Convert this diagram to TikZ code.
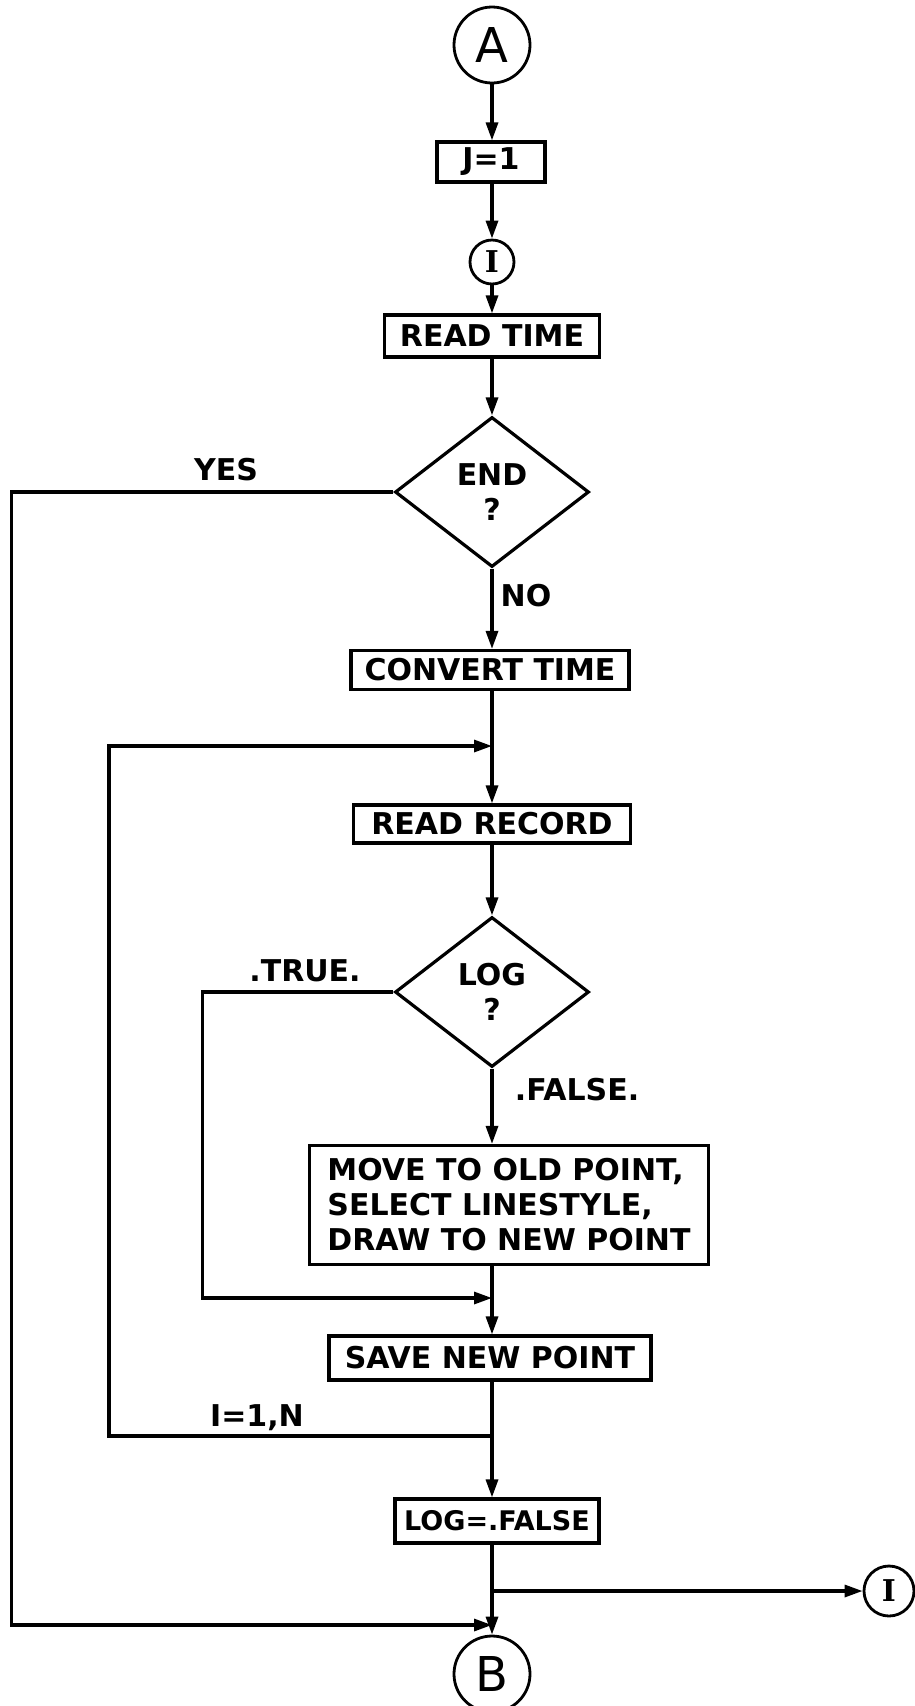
\documentclass[tikz,border=0pt]{standalone}
\usepackage{fontspec}
\setsansfont{DejaVu Sans}
\newfontfamily\circfont{DejaVu Sans}
\newfontfamily\serfont{DejaVu Serif}
\usetikzlibrary{arrows.meta,shapes.geometric}
\begin{document}
\begin{tikzpicture}[x=1pt,y=-1pt,
  every node/.style={font=\sffamily\bfseries\fontsize{30}{35}\selectfont},
  proc/.style={draw,line width=3.2pt,rectangle,inner sep=0pt},
  dec/.style={draw,line width=3.2pt,diamond,inner sep=0pt,aspect=1.3,align=center},
  conn/.style={draw,line width=2.8pt,circle,inner sep=0pt},
  bigletter/.style={font=\circfont\fontsize{48}{48}\selectfont},
  smallletter/.style={font=\serfont\bfseries\fontsize{30}{30}\selectfont},
  flow/.style={line width=3.2pt,-{Triangle[length=18pt,width=12pt]}},
  lbl/.style={inner sep=0pt}
]
\useasboundingbox (0,0) rectangle (914,1706);
% nodes
\node[conn,bigletter,minimum size=76pt] (A) at (492,45) {A};
\node[proc,minimum width=108pt,minimum height=40pt] (J) at (491,162) {J=1};
\node[conn,smallletter,minimum size=44pt] (I1) at (492,262) {I};
\node[proc,minimum width=215pt,minimum height=42pt] (rt) at (492,336) {READ TIME};
\node[dec,minimum width=194pt,minimum height=150pt] (end) at (492,492) {END\\?};
\node[proc,minimum width=278pt,minimum height=39pt] (conv) at (490,670) {CONVERT TIME};
\coordinate (m1) at (492,746);
\node[proc,minimum width=277pt,minimum height=38pt] (rr) at (492,824) {READ RECORD};
\node[dec,minimum width=194pt,minimum height=150pt] (log) at (492,992) {LOG\\?};
\node[proc,align=left,minimum width=399pt,minimum height=119pt] (move) at (509,1205) {MOVE TO OLD POINT,\\SELECT LINESTYLE,\\DRAW TO NEW POINT};
\coordinate (m2) at (492,1298);
\node[proc,minimum width=322pt,minimum height=44pt] (save) at (490,1358) {SAVE NEW POINT};
\coordinate (m3) at (492,1436);
\node[proc,minimum width=204pt,minimum height=44pt,font=\sffamily\bfseries\fontsize{27}{30}\selectfont] (lf) at (497,1521) {LOG=.FALSE};
\coordinate (m4) at (492,1591);
\node[conn,smallletter,minimum size=50pt] (I2) at (889,1591) {I};
\coordinate (m5) at (492,1625);
\node[conn,bigletter,minimum size=76pt] (B) at (492,1674) {B};
% labels
\node[lbl] (yes) at (226,470) {YES};
\node[lbl] (no) at (526,596) {NO};
\node[lbl] (tr) at (305,971) {.TRUE.};
\node[lbl] (fa) at (577,1090) {.FALSE.};
\node[lbl] (in) at (257,1418) {I=1,N};
% connectors
\draw[flow] (A.south) -- (J.north -| A);
\draw[flow] (J.south -| A) -- (I1.north);
\draw[flow] (I1.south) -- (rt.north);
\draw[flow] (rt.south) -- (end.north);
\draw[flow] (end.south) -- (conv.north -| A);
\draw[flow] (conv.south -| A) -- (rr.north);
\draw[flow] (rr.south) -- (log.north);
\draw[flow] (log.south) -- (move.north -| A);
\draw[flow] (move.south -| A) -- (save.north -| A);
\draw[flow] (save.south -| A) -- (lf.north -| A);
\draw[flow] (lf.south -| A) -- (B.north);
\draw[flow] (m4) -- (I2.west);
\draw[flow] (end.west) -- ++(-382,0) |- (m5);
\draw[flow] (log.west) -- ++(-191,0) |- (m2);
\draw[flow] (m3) -- ++(-383,0) |- (m1);
\end{tikzpicture}
\end{document}
